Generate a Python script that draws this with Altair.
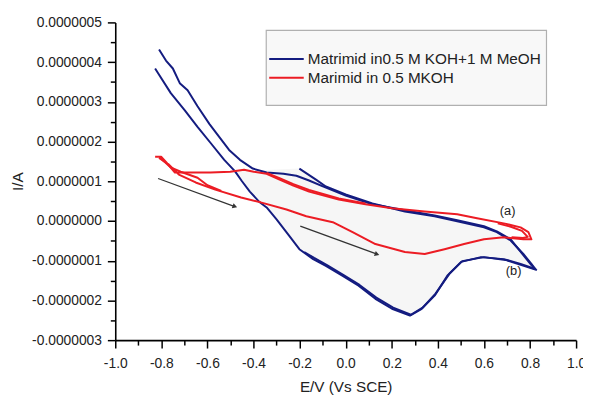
import altair as alt
import pandas as pd

# ---------------- data (current values in units of 1e-7 A) ----------------
series_names = ["Matrimid in0.5 M KOH+1 M MeOH", "Marimid in 0.5 MKOH"]
series_colors = ["#141c80", "#ec1c24"]

# Matrimid in 0.5 M KOH + 1 M MeOH : first scan (starts at -0.2 V)
blue_scan1_E = [-0.201, -0.129, -0.086, 0.000, 0.116, 0.257, 0.386, 0.484, 0.600, 0.656, 0.716, 0.771,
                0.806, 0.823, 0.759, 0.686, 0.587, 0.501, 0.441, 0.386, 0.330, 0.279, 0.201, 0.129,
                0.056, -0.013, -0.086, -0.141, -0.201, -0.244, -0.300, -0.343, -0.373, -0.416, -0.450,
                -0.480, -0.527, -0.587, -0.643, -0.699, -0.759, -0.814, -0.827]
blue_scan1_I = [1.32, 1.04, 0.87, 0.67, 0.44, 0.24, 0.12, -0.01, -0.16, -0.28, -0.49, -0.83,
                -1.08, -1.21, -1.08, -0.96, -0.91, -1.03, -1.38, -1.88, -2.21, -2.38, -2.21, -1.96,
                -1.63, -1.38, -1.13, -0.96, -0.71, -0.38, 0.04, 0.34, 0.47, 0.74, 1.00,
                1.25, 1.54, 1.97, 2.37, 2.79, 3.22, 3.72, 3.84]
# second scan (starts at the top left)
blue_scan2_E = [-0.810, -0.780, -0.750, -0.720, -0.686, -0.643, -0.591, -0.549, -0.506, -0.459, -0.403,
                -0.343, -0.270, -0.214, -0.159, -0.099, 0.000, 0.116, 0.257, 0.386, 0.484, 0.600,
                0.656, 0.716, 0.771, 0.806, 0.827, 0.763, 0.694, 0.600, 0.506, 0.450, 0.390, 0.334,
                0.283, 0.206, 0.133, 0.060, -0.009, -0.081, -0.137, -0.180]
blue_scan2_I = [4.32, 4.04, 3.84, 3.47, 3.29, 2.89, 2.44, 2.12, 1.79, 1.54, 1.32,
                1.22, 1.19, 1.14, 1.02, 0.87, 0.64, 0.42, 0.27, 0.14, 0.02, -0.13,
                -0.26, -0.46, -0.86, -1.11, -1.23, -1.11, -0.98, -0.91, -1.01, -1.33, -1.83, -2.18,
                -2.36, -2.18, -1.93, -1.61, -1.36, -1.11, -0.93, -0.78]

# Marimid in 0.5 M KOH
red_scan1_E = [-0.827, -0.801, -0.780, -0.763, -0.741, -0.673, -0.587, -0.501, -0.441, -0.399, -0.343,
               -0.287, -0.227, -0.159, -0.030, 0.086, 0.201, 0.343, 0.484, 0.570, 0.686, 0.759,
               0.793, 0.806, 0.771, 0.686, 0.600, 0.514, 0.429, 0.343, 0.257, 0.129, 0.030,
               -0.056, -0.171, -0.257, -0.369, -0.454, -0.566, -0.651, -0.724, -0.767, -0.810]
red_scan1_I = [1.62, 1.62, 1.49, 1.37, 1.22, 1.22, 1.22, 1.24, 1.29, 1.24, 1.19,
               1.04, 0.89, 0.74, 0.54, 0.42, 0.32, 0.24, 0.17, 0.07, -0.06, -0.16,
               -0.28, -0.46, -0.46, -0.41, -0.46, -0.58, -0.71, -0.83, -0.78, -0.58, -0.28,
               -0.03, 0.12, 0.29, 0.47, 0.59, 0.79, 0.97, 1.17, 1.42, 1.59]
red_lens_E = [-0.797, -0.760, -0.716, -0.643, -0.600, -0.540]
red_lens_I = [1.55, 1.35, 1.24, 1.09, 0.90, 0.76]
red_mid_E = [-0.343, -0.287, -0.227, -0.159, -0.030, 0.086]
red_mid_I = [1.21, 1.08, 0.93, 0.78, 0.57, 0.44]
red_tip_E = [0.660, 0.720, 0.765, 0.790, 0.770, 0.720]
red_tip_I = [-0.06, -0.15, -0.25, -0.40, -0.43, -0.41]

# scan-direction arrows
arrow_start_E = [-0.814, -0.197]
arrow_start_I = [1.07, -0.13]
arrow_end_E = [-0.484, 0.133]
arrow_end_I = [0.37, -0.83]

# curve annotations
note_text = ["(a)", "(b)"]
note_E = [0.703, 0.729]
note_I = [0.24, -1.26]

x_tick_values = [-1.0, -0.9, -0.8, -0.7, -0.6, -0.5, -0.4, -0.3, -0.2, -0.1, 0.0,
                 0.1, 0.2, 0.3, 0.4, 0.5, 0.6, 0.7, 0.8, 0.9, 1.0]
y_tick_values = [-3e-7, -2.5e-7, -2e-7, -1.5e-7, -1e-7, -0.5e-7, 0.0, 0.5e-7, 1e-7,
                 1.5e-7, 2e-7, 2.5e-7, 3e-7, 3.5e-7, 4e-7, 4.5e-7, 5e-7]

UNIT = 1e-7

# ---------------- tables ----------------
segments = [
    ("b1", series_names[0], blue_scan1_E, blue_scan1_I),
    ("b2", series_names[0], blue_scan2_E, blue_scan2_I),
    ("r1", series_names[1], red_scan1_E, red_scan1_I),
    ("r2", series_names[1], red_lens_E, red_lens_I),
    ("r3", series_names[1], red_mid_E, red_mid_I),
    ("r4", series_names[1], red_tip_E, red_tip_I),
]
rows = []
for seg, name, es, cs in segments:
    for k, (e, c) in enumerate(zip(es, cs)):
        rows.append({"seg": seg, "series": name, "idx": k, "E": e, "I": c * UNIT})
curves = pd.DataFrame(rows)

fill_df = pd.DataFrame({"idx": list(range(36)), "E": blue_scan1_E[:36],
                        "I": [c * UNIT for c in blue_scan1_I[:36]]})

arrows = pd.DataFrame({"E": arrow_start_E, "I": [c * UNIT for c in arrow_start_I],
                       "E2": arrow_end_E, "I2": [c * UNIT for c in arrow_end_I]})
notes = pd.DataFrame({"label": note_text, "E": note_E, "I": [c * UNIT for c in note_I]})

# ---------------- scales / axes ----------------
FONT = "Liberation Sans"
xscale = alt.Scale(domain=[-1.0, 1.0], nice=False, zero=False)
yscale = alt.Scale(domain=[-3e-7, 5e-7], nice=False, zero=False)

xaxis = alt.Axis(
    values=x_tick_values,
    labelExpr="round(datum.value*10) % 2 == 0 ? (datum.value < -1e-9 ? '-' : '') + format(abs(datum.value), '.1f') : ''",
    tickSize={"condition": {"test": "round(datum.value*10) % 2 != 0", "value": 5}, "value": 8},
    title="E/V (Vs SCE)", grid=False, labelPadding=9, titlePadding=9, labelFlush=False,
)
yaxis = alt.Axis(
    values=y_tick_values,
    labelExpr="round(datum.value*2e7) % 2 == 0 ? (datum.value < -1e-12 ? '-' : '') + format(abs(datum.value), '.7f') : ''",
    tickSize={"condition": {"test": "round(datum.value*2e7) % 2 != 0", "value": 5}, "value": 8},
    title="I/A", grid=False, labelPadding=6, titlePadding=6, labelFlush=False,
)


def X(field="E"):
    return alt.X(f"{field}:Q", scale=xscale, axis=xaxis)


def Y(field="I"):
    return alt.Y(f"{field}:Q", scale=yscale, axis=yaxis)


fill_layer = alt.Chart(fill_df).mark_line(
    fill="#f6f6f6", strokeWidth=0, interpolate="linear-closed"
).encode(x=X(), y=Y(), order="idx:Q")

lines = alt.Chart(curves).mark_line(strokeWidth=2, strokeJoin="round").encode(
    x=X(), y=Y(),
    color=alt.Color("series:N", scale=alt.Scale(domain=series_names, range=series_colors), legend=None),
    detail="seg:N",
    order="idx:Q",
)

arrow_shafts = alt.Chart(arrows).mark_rule(color="#333333", strokeWidth=1.3).encode(
    x=X(), y=Y(), x2="E2:Q", y2="I2:Q")
arrow_heads = alt.Chart(arrows).mark_point(
    shape="triangle", filled=True, size=30, angle=110, color="#333333", opacity=1
).encode(x=X("E2"), y=Y("I2"))

note_layer = alt.Chart(notes).mark_text(font=FONT, fontSize=13, color="#222222").encode(
    x=X(), y=Y(), text="label:N")

# ---------------- legend (boxed, top right) ----------------
one = pd.DataFrame({"k": [0]})
legend_box = alt.Chart(one).mark_rect(fill="#f8f8f8", stroke="#b0b0b0", strokeWidth=1.2).encode(
    x=alt.value(153), x2=alt.value(437), y=alt.value(8), y2=alt.value(84))
legend_items = []
for i, (name, col) in enumerate(zip(series_names, series_colors)):
    yy = 37 + i * 19
    legend_items.append(alt.Chart(one).mark_rule(color=col, strokeWidth=2).encode(
        x=alt.value(156), x2=alt.value(191), y=alt.value(yy)))
    legend_items.append(alt.Chart(one).mark_text(
        text=name, align="left", baseline="middle", font=FONT, fontSize=15.5, color="#222222"
    ).encode(x=alt.value(195), y=alt.value(yy)))

chart = alt.layer(
    fill_layer, lines, arrow_shafts, arrow_heads, note_layer, legend_box, *legend_items
).properties(
    width=467, height=322,
    autosize=alt.AutoSizeParams(type="none"),
    padding={"left": 108.7, "top": 12, "right": 7, "bottom": 54},
).configure_view(stroke=None).configure_axis(
    domainColor="#000000", domainWidth=1.6, tickColor="#000000", tickWidth=1.5,
    labelFont=FONT, labelFontSize=14, labelColor="#222222",
    titleFont=FONT, titleFontSize=15.5, titleFontWeight="normal", titleColor="#222222",
)

chart.save("out.html", embed_options={"renderer": "svg", "actions": False})
